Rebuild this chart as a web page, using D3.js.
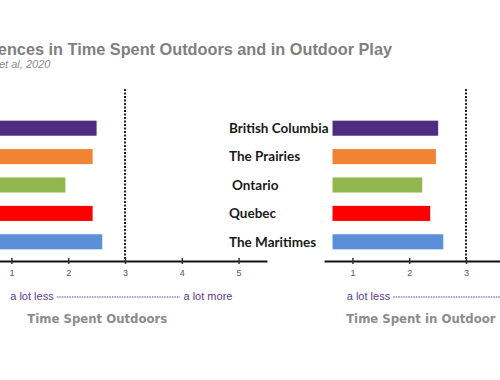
<!DOCTYPE html>
<html>
<head>
<meta charset="utf-8">
<script src="https://cdn.jsdelivr.net/npm/d3@7"></script>
<style>
  body { margin: 0; background: #fff; }
  svg { display: block; }
</style>
</head>
<body>
<div id="chart"></div>
<script>
// regions, top to bottom
const regions = ["British Columbia", "The Prairies", "Ontario", "Quebec", "The Maritimes"];
const regionColors = ["#4f2b82", "#f08433", "#93b74f", "#ff0000", "#5b8fd8"];
// mean scores on the 1-5 scale
const outdoorsValues = [2.5, 2.43, 1.95, 2.43, 2.6];
const playValues = [2.51, 2.47, 2.23, 2.37, 2.6];
const tickValues = [1, 2, 3, 4, 5];
const neutralValue = 3;
const barStart = 0.65;
const titleText = "Regional Differences in Time Spent Outdoors and in Outdoor Play";
const sourceText = "et al, 2020";
const lowText = "a lot less";
const highText = "a lot more";

const Chart = (function(d3) {
    const width = 500, height = 380;
    const axisY = 261;

    const svg = d3.select("#chart").append("svg")
        .attr("width", width)
        .attr("height", height);

    // title, cut off on the left like the slide
    svg.append("text")
        .attr("x", 392)
        .attr("y", 55)
        .attr("text-anchor", "end")
        .style("font-family", "'Liberation Sans', Arial, sans-serif")
        .style("font-weight", "bold")
        .style("font-size", "16.3px")
        .attr("fill", "#7f7f7f")
        .text(titleText);

    svg.append("text")
        .attr("x", -1)
        .attr("y", 68)
        .style("font-family", "'Liberation Sans', Arial, sans-serif")
        .style("font-style", "italic")
        .style("font-size", "11px")
        .attr("fill", "#8a8a8a")
        .text(sourceText);

    const y = d3.scaleBand()
        .domain(regions)
        .range([114, 256])
        .paddingInner(0.47)
        .paddingOuter(0.235);

    const color = d3.scaleOrdinal().domain(regions).range(regionColors);

    function panel(values, x0, title, lowAt, titleAt, showLabels) {
        const x = d3.scaleLinear().domain([0.5, 5.5]).range([x0, x0 + 284]);
        const g = svg.append("g");

        if (showLabels) {
            g.selectAll(".label")
                .data(regions)
                .enter().append("text")
                .attr("class", "label")
                .attr("x", d => d === "Ontario" ? 232 : 229)
                .attr("y", d => y(d) + y.bandwidth() / 2)
                .attr("dy", "0.35em")
                .style("font-family", "Lato, 'Open Sans', sans-serif")
                .style("font-weight", "bold")
                .style("font-size", "13.5px")
                .attr("fill", "#1a1a1a")
                .text(d => d);
        }

        g.selectAll(".bar")
            .data(values)
            .enter().append("rect")
            .attr("class", "bar")
            .attr("x", x(barStart))
            .attr("y", (d, i) => y(regions[i]))
            .attr("width", d => x(d) - x(barStart))
            .attr("height", y.bandwidth())
            .attr("fill", (d, i) => color(regions[i]));

        // neutral dotted line
        g.append("line")
            .attr("x1", x(neutralValue))
            .attr("x2", x(neutralValue))
            .attr("y1", 89)
            .attr("y2", axisY)
            .attr("stroke", "#222")
            .attr("stroke-width", 2)
            .attr("stroke-dasharray", "2,1.5");

        const axis = d3.axisBottom(x)
            .tickValues(tickValues)
            .tickFormat(d3.format("d"))
            .tickSizeOuter(0)
            .tickSizeInner(3)
            .tickPadding(6);

        const ax = g.append("g")
            .attr("transform", `translate(0,${axisY})`)
            .call(axis);
        ax.select(".domain").attr("stroke", "#111").attr("stroke-width", 2.2);
        ax.selectAll(".tick line")
            .attr("y1", -3)
            .attr("y2", 3)
            .attr("stroke", "#333")
            .attr("stroke-width", 1.5);
        ax.selectAll(".tick text")
            .style("font-family", "'Liberation Sans', Arial, sans-serif")
            .style("font-size", "9px")
            .attr("fill", "#5d4d80");

        // a lot less ----- a lot more
        const scaleG = g.append("g")
            .style("font-family", "'Liberation Sans', Arial, sans-serif")
            .style("font-size", "11px")
            .attr("fill", "#5a3d8c");
        scaleG.append("text")
            .attr("x", x(lowAt))
            .attr("y", 300)
            .text(lowText);
        scaleG.append("text")
            .attr("x", x(lowAt + 3.05))
            .attr("y", 300)
            .text(highText);
        g.append("line")
            .attr("x1", x(lowAt + 0.82))
            .attr("x2", x(lowAt + 2.99))
            .attr("y1", 297)
            .attr("y2", 297)
            .attr("stroke", "#5a3d8c")
            .attr("stroke-width", 1)
            .attr("stroke-dasharray", "1.5,1");

        g.append("text")
            .attr("x", x(titleAt))
            .attr("y", 323)
            .style("font-family", "'DejaVu Sans Condensed', 'DejaVu Sans', sans-serif")
            .style("font-stretch", "condensed")
            .style("font-weight", "bold")
            .style("font-size", "13px")
            .attr("fill", "#8c8c8c")
            .text(title);
    }

    panel(outdoorsValues, -17, "Time Spent Outdoors", 0.98, 1.28, false);
    panel(playValues, 324, "Time Spent in Outdoor Play", 0.9, 0.89, true);
})(d3);
</script>
</body>
</html>
